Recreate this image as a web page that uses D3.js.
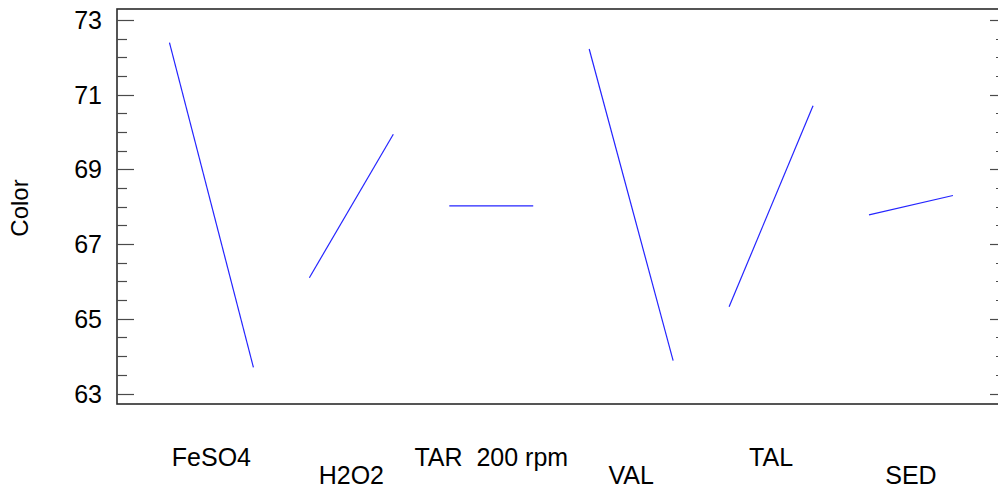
<!DOCTYPE html>
<html>
<head>
<meta charset="utf-8">
<script src="https://cdn.jsdelivr.net/npm/d3@7"></script>
<style>
  html, body { margin: 0; padding: 0; background: #fff; }
  svg { display: block; font-family: Arial, "Liberation Sans", sans-serif; }
  text { white-space: pre; }
</style>
</head>
<body>
<svg id="chart" width="998" height="489"></svg>
<script>
// ---- data ----
const factors = ["FeSO4", "H2O2", "TAR  200 rpm", "VAL", "TAL", "SED"];
const lowValues  = [72.39, 66.10, 68.02, 72.22, 65.32, 67.78];
const highValues = [63.70, 69.94, 68.02, 63.88, 70.70, 68.30];
const majorTicks = [63, 65, 67, 69, 71, 73];
const minorTicks = [63.5, 64, 64.5, 65.5, 66, 66.5, 67.5, 68, 68.5, 69.5, 70, 70.5, 71.5, 72, 72.5];
const yTitle = "Color";

(function () {
  // ---- layout ----
  const pLeft = 117, pRight = 998, pTop = 9, pBottom = 404;
  const svg = d3.select("#chart");

  const x = d3.scaleLinear().domain([-0.375, 5.922]).range([pLeft, pRight]);
  const levelSpan = 0.6;
  const y = d3.scaleLinear().domain([62.72, 73.29]).range([pBottom, pTop]);

  // frame
  svg.append("rect")
    .attr("x", pLeft).attr("y", pTop)
    .attr("width", pRight - pLeft + 2).attr("height", pBottom - pTop)
    .attr("fill", "none").attr("stroke", "#2b2b2b").attr("stroke-width", 1.6);

  const tickColor = "#4a4a4a";
  const yy = d => Math.round(y(d)) + 0.5;
  function ticks(data, x1, x2) {
    svg.append("g").selectAll("line").data(data).join("line")
      .attr("x1", x1).attr("x2", x2)
      .attr("y1", yy).attr("y2", yy)
      .attr("stroke", tickColor).attr("stroke-width", 1.2);
  }
  ticks(majorTicks, pLeft, pLeft + 17);
  ticks(minorTicks, pLeft, pLeft + 10);
  ticks(majorTicks, 990, 998);
  ticks(minorTicks, 996, 998);

  // tick labels
  svg.append("g").selectAll("text").data(majorTicks).join("text")
    .attr("x", 102).attr("y", d => y(d))
    .attr("dy", "0.36em")
    .attr("text-anchor", "end")
    .attr("font-size", 25).attr("fill", "#000")
    .text(d => d);

  // y title
  svg.append("text")
    .attr("transform", "translate(28,208) rotate(-90)")
    .attr("text-anchor", "middle")
    .attr("font-size", 24).attr("fill", "#000")
    .text(yTitle);

  // effect lines
  const rows = factors.map((f, i) => ({ f, i, lo: lowValues[i], hi: highValues[i] }));
  svg.append("g").selectAll("line").data(rows).join("line")
    .attr("x1", d => x(d.i)).attr("x2", d => x(d.i + levelSpan))
    .attr("y1", d => y(d.lo)).attr("y2", d => y(d.hi))
    .attr("stroke", "#2424ff").attr("stroke-width", 1.2);

  // factor labels
  svg.append("g").selectAll("text").data(rows).join("text")
    .attr("x", d => x(d.i + levelSpan / 2))
    .attr("y", d => d.i % 2 === 0 ? 466 : 484)
    .attr("text-anchor", "middle")
    .attr("font-size", 25).attr("fill", "#000")
    .text(d => d.f);
})();
</script>
</body>
</html>
